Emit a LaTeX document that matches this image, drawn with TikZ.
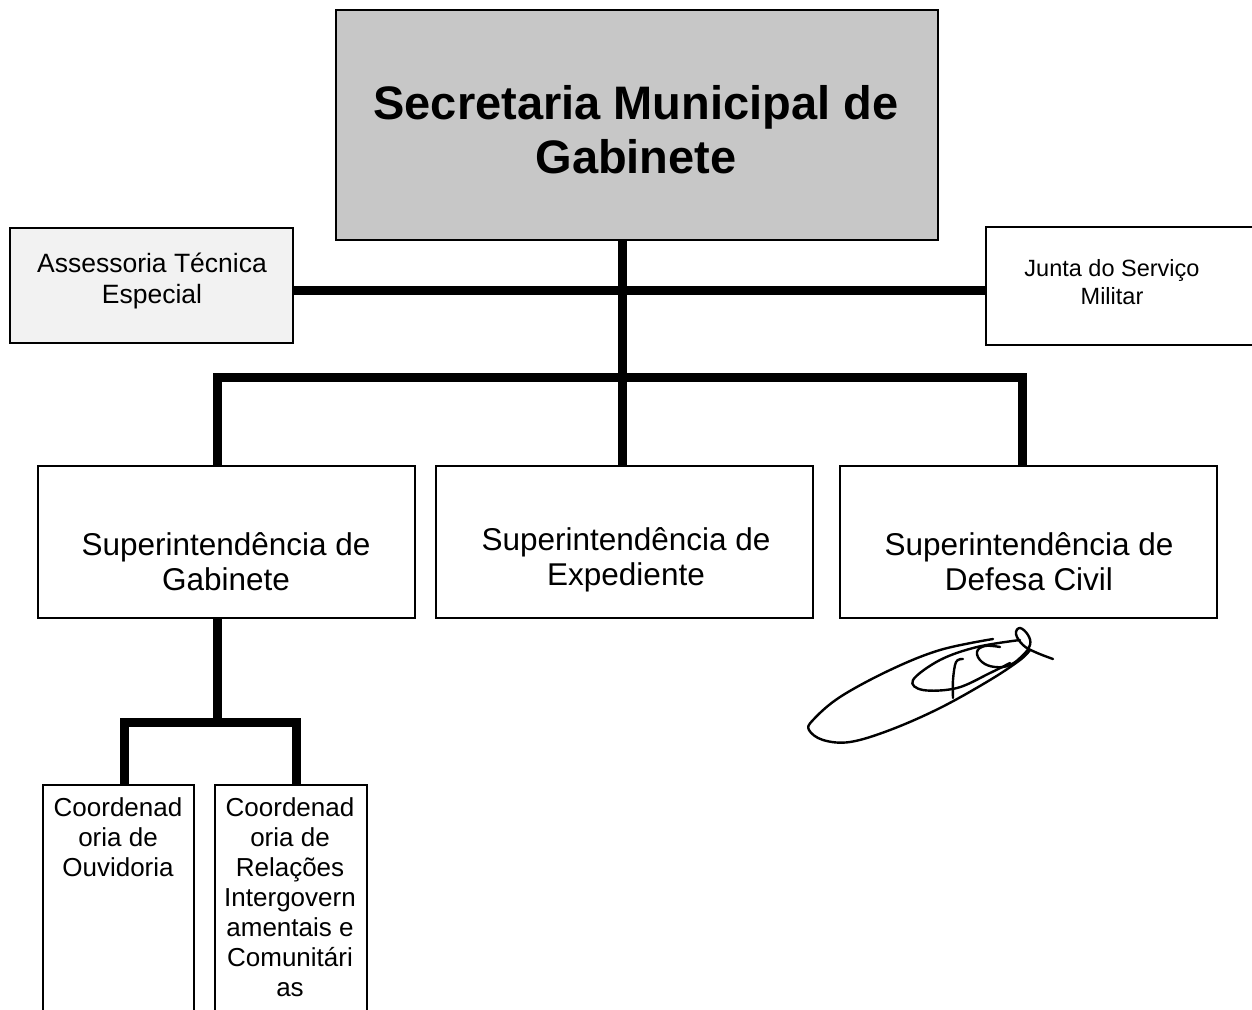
\documentclass[tikz,border=0pt]{standalone}
\usepackage{fontspec}
\setmainfont{Liberation Sans}
\begin{document}
\begin{tikzpicture}[x=1pt,y=-1pt,
  box/.style={draw, line width=1.6pt, inner sep=0pt},
  conn/.style={line width=9pt, line join=miter},
  txt/.style={align=center, inner sep=0pt},
  sig/.style={line width=2.4pt, line cap=round, line join=round}]
\clip (0,0) rectangle (1252,1009);
\fill[white] (0,0) rectangle (1252,1009);

% boxes
\node[box, fill=black!22, minimum width=602pt, minimum height=230pt] (sec) at (637,125) {};
\node[txt, font=\bfseries\fontsize{47}{54}\selectfont] (sect) at (636,130) {Secretaria Municipal de\\Gabinete};

\node[box, fill=black!5, minimum width=283pt, minimum height=115pt] (ate) at (151.5,285.5) {};
\node[txt, font=\fontsize{26.5}{31}\selectfont] (atet) at (152,281) {Assessoria Técnica\\Especial};

\node[box, minimum width=314pt, minimum height=118pt] (jsm) at (1143,286) {};
\node[txt, font=\fontsize{23.5}{28}\selectfont] (jsmt) at (1112,282) {Junta do Serviço\\Militar};

\node[box, minimum width=377pt, minimum height=152pt] (sG) at (226.5,542) {};
\node[box, minimum width=377pt, minimum height=152pt] (sE) at (624.5,542) {};
\node[box, minimum width=377pt, minimum height=152pt] (sD) at (1028.5,542) {};
\node[txt, font=\fontsize{31.5}{35}\selectfont] (sGt) at (226,562) {Superintendência de\\Gabinete};
\node[txt, font=\fontsize{31.5}{35}\selectfont] (sEt) at (626,560) {Superintendência de\\Expediente};
\node[txt, font=\fontsize{31.5}{35}\selectfont] (sDt) at (1029,562) {Superintendência de\\Defesa Civil};

\node[box, minimum width=151pt, minimum height=265pt] (cO) at (118.5,917.5) {};
\node[box, minimum width=152pt, minimum height=265pt] (cR) at (291,917.5) {};
\node[txt, font=\fontsize{26}{30}\selectfont, anchor=north] (cOt) at (118,797) {Coordenad\\oria de\\Ouvidoria};
\node[txt, font=\fontsize{26}{30}\selectfont, anchor=north] (cRt) at (290,797) {Coordenad\\oria de\\Relações\\Intergovern\\amentais e\\Comunitári\\as};

% connectors
\coordinate (hl) at (0,290);
\draw[conn] (ate.east |- hl) -- (jsm.west |- hl);
\coordinate (bm) at (622,377);
\coordinate (bl) at (217,377);
\coordinate (br) at (1022,377);
\draw[conn] (sec.south -| bm) -- (bm |- sE.north);
\draw[conn] (bl |- sG.north) -- (bl) -- (br) -- (br |- sD.north);
\coordinate (c) at (217,722);
\coordinate (cl) at (124,722);
\coordinate (cr) at (296,722);
\draw[conn] (sG.south -| c) -- (c);
\draw[conn] (cl |- cO.north) -- (cl) -- (cr) -- (cr |- cR.north);

% signature
\draw[sig] plot[smooth, tension=0.6] coordinates {(993,639) (940,650) (890,670) (840,697) (813,720) (809,730) (823,740) (850,742) (890,730) (940,708) (990,680) (1020,660) (1030,650)};
\draw[sig] plot[smooth, tension=0.6] coordinates {(1020,640) (977,647) (940,660) (913,680) (923,690) (957,688) (990,673) (1010,663)};
\draw[sig] plot[smooth, tension=0.7] coordinates {(1000,647) (985,646) (977,652) (982,662) (995,667) (1010,665) (1023,655) (1030,645) (1028,635) (1020,628) (1016,634) (1023,645) (1035,652) (1053,659)};
\draw[sig] plot[smooth, tension=0.6] coordinates {(963,659) (956,662) (953,680) (953,698)};
\end{tikzpicture}
\end{document}
